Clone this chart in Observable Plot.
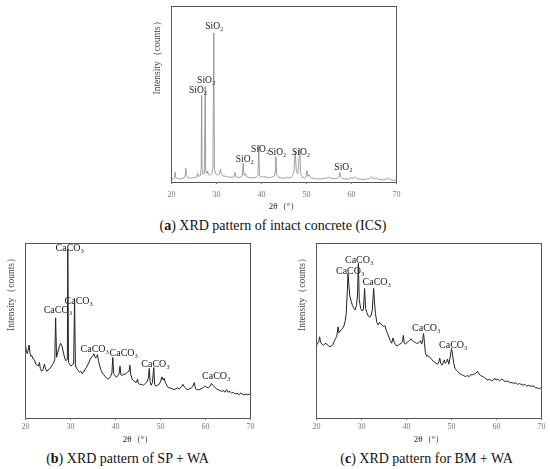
<!DOCTYPE html>
<html><head><meta charset="utf-8">
<script src="https://cdn.jsdelivr.net/npm/d3@7"></script>
<script src="https://cdn.jsdelivr.net/npm/@observablehq/plot@0.6"></script>
<style>
body{margin:0;background:#fff;}
#root{position:relative;width:550px;height:469px;background:#fff;overflow:hidden;}
#root svg{position:absolute;overflow:visible;filter:grayscale(1);}
.cap{position:absolute;transform:translateX(-50%);white-space:nowrap;font-family:"Liberation Serif","DejaVu Serif",serif;font-size:14px;line-height:16px;color:#111;}
</style></head>
<body><div id="root"></div>
<script>
// Panel (a): intact concrete (ICS)
const thetaA = [20.0,20.4,20.7,20.8,20.9,21.3,21.8,22.3,22.8,23.1,23.2,23.3,23.7,24.2,24.7,25.2,25.6,25.8,26.0,26.4,26.6,26.7,26.8,27.0,27.3,27.5,27.6,27.9,28.0,28.2,28.6,29.0,29.2,29.4,29.55,29.8,30.2,30.6,30.9,31.1,31.5,32.0,32.5,33.0,33.5,33.9,34.1,34.3,34.8,35.3,35.7,35.95,36.1,36.5,36.7,37.2,37.7,38.2,38.8,39.2,39.4,39.55,39.9,40.3,40.5,41.0,41.2,41.7,42.2,42.5,42.8,43.1,43.2,43.35,43.8,44.3,44.8,45.3,45.8,46.3,46.8,47.2,47.5,47.75,48.1,48.5,48.7,49.1,49.6,49.9,50.1,50.3,50.6,50.9,51.5,52.0,52.6,53.2,53.8,54.4,54.9,55.3,55.8,56.4,56.9,57.2,57.4,57.6,58.0,58.5,59.0,59.5,59.9,60.2,60.7,61.0,61.5,62.0,62.5,63.0,63.5,64.0,64.5,64.8,65.3,65.6,66.0,66.6,67.2,67.8,68.1,68.4,69.0,69.5,70.0];
const intensityA = [2.0,2.2,3.0,5.8,3.0,2.2,2.0,2.3,2.5,5.0,8.1,4.0,2.6,2.5,2.7,2.8,3.2,5.3,3.5,3.8,8.0,49.6,8.0,4.5,5.5,54.7,6.0,5.0,6.5,4.5,4.2,5.0,8.0,85,8.0,5.0,4.2,4.8,7.5,4.5,3.8,3.5,3.2,3.0,3.0,3.4,5.7,3.3,2.8,3.0,3.6,11,4.0,5.0,3.2,2.8,2.6,2.7,3.0,4.0,21.3,3.8,3.0,3.5,2.8,3.6,2.8,2.7,3.0,3.4,3.5,6,14.7,4.5,3.0,2.6,2.4,2.6,3.0,2.5,3.5,6.0,17.9,6.0,5.0,19.4,5.0,3.0,2.5,3.5,6.8,3.5,4.5,2.8,2.2,2.0,2.1,2.0,2.2,2.5,3.0,2.5,2.2,2.3,2.5,3.2,5.7,3.2,2.2,1.9,2.0,2.1,2.8,2.0,3.4,2.6,2.0,1.8,1.7,1.8,2.0,2.2,3.4,2.4,2.0,2.6,1.8,1.5,1.6,2.0,2.8,1.7,1.4,1.3,1.2];
const labelXA = [29.5,27.7,25.9,36.3,39.7,43.5,48.8,58.2];
const labelYA = [88.9,58.1,52.5,13.2,19.1,17.5,17.2,9.1];
const labelTextA = ["SiO₂","SiO₂","SiO₂","SiO₂","SiO₂","SiO₂","SiO₂","SiO₂"];

// Panel (b): SP + WA
const thetaB = [20.0,20.2,20.4,20.6,20.8,21.0,21.2,21.4,21.7,22.0,22.3,22.6,22.9,23.1,23.3,23.6,23.9,24.2,24.4,24.7,25.0,25.3,25.6,25.9,26.2,26.5,26.7,26.9,27.2,27.5,27.8,28.1,28.4,28.7,29.0,29.3,29.4,29.55,29.8,30.1,30.4,30.7,30.9,31.1,31.4,31.7,32.0,32.3,32.6,32.9,33.2,33.5,33.8,34.1,34.4,34.7,35.0,35.2,35.4,35.6,35.8,36.0,36.2,36.5,36.8,37.1,37.4,37.7,38.0,38.3,38.6,38.9,39.2,39.4,39.6,39.9,40.2,40.5,40.8,41.0,41.2,41.5,41.8,42.1,42.4,42.7,43.0,43.2,43.4,43.7,44.0,44.3,44.6,44.9,45.1,45.4,45.8,46.2,46.6,47.0,47.3,47.5,47.7,47.9,48.2,48.5,48.7,49.0,49.3,49.7,50.0,50.3,50.6,50.8,51.1,51.4,51.8,52.2,52.6,53.0,53.4,53.8,54.2,54.6,55.0,55.3,55.7,56.1,56.5,56.9,57.2,57.5,57.8,58.2,58.6,59.0,59.4,59.8,60.2,60.6,61.0,61.3,61.6,62.0,62.4,62.8,63.2,63.6,64.0,64.3,64.7,65.0,65.4,65.8,66.2,66.6,67.0,67.4,67.8,68.2,68.6,69.0,69.4,69.8,70.0];
const intensityB = [41.9,38.5,37.0,39.0,42.0,37.5,35.5,36.0,34.0,33.5,31.0,30.5,30.0,32.0,28.5,27.0,28.0,31.0,29.0,27.0,27.5,28.5,29.0,30.5,31.5,33.5,57.5,35.0,38.0,41.0,43.0,41.5,38.0,34.5,33.0,34.0,96.8,32.0,31.0,30.0,30.5,31.5,68.6,30.0,28.5,27.5,26.5,27.0,25.5,26.5,28.0,29.0,30.5,32.0,34.0,35.0,36.0,37.0,35.5,34.5,35.5,36.5,33.0,30.0,27.5,26.0,25.0,24.0,23.0,22.5,23.0,24.0,26.0,34.9,25.5,24.5,23.5,24.5,25.5,29.9,25.0,24.5,25.5,25.0,26.0,26.5,27.0,30.5,25.0,22.5,21.5,21.0,20.5,22.5,20.0,19.5,19.5,19.0,20.0,21.0,23.0,28.6,21.0,19.0,20.5,29.1,19.5,18.5,19.0,19.5,21.0,23.8,22.0,23.0,20.5,19.0,17.5,17.5,17.0,16.5,17.0,17.5,17.0,18.0,19.5,18.0,17.0,16.5,17.0,17.5,18.5,20.5,17.0,16.5,16.5,17.0,17.5,18.5,18.0,17.5,18.5,20.0,19.0,18.0,17.0,16.5,16.0,15.5,16.0,15.0,16.5,15.0,15.5,14.5,15.0,14.0,14.5,13.5,14.5,14.0,13.5,14.0,13.5,14.0,13.5];
const labelXB = [29.85,31.85,27.2,35.4,41.85,48.9,62.4];
const labelYB = [97.7,67.2,61.9,39.6,37.5,31.4,24.2];
const labelTextB = ["CaCO₃","CaCO₃","CaCO₃","CaCO₃","CaCO₃","CaCO₃","CaCO₃"];

// Panel (c): BM + WA
const thetaC = [20.0,20.3,20.5,20.7,20.9,21.2,21.5,21.8,22.1,22.4,22.7,23.0,23.3,23.6,23.9,24.2,24.5,24.8,25.0,25.2,25.5,25.8,26.1,26.4,26.6,26.8,27.0,27.2,27.4,27.7,28.0,28.3,28.6,28.9,29.1,29.3,29.5,29.8,30.1,30.4,30.7,30.9,31.2,31.5,31.8,32.1,32.4,32.7,32.9,33.1,33.4,33.7,34.0,34.3,34.6,34.9,35.2,35.5,35.8,36.1,36.4,36.7,37.0,37.3,37.6,37.9,38.2,38.5,38.8,39.1,39.3,39.5,39.8,40.1,40.4,40.7,41.0,41.3,41.6,41.9,42.2,42.5,42.8,43.1,43.4,43.6,43.8,44.0,44.2,44.5,44.8,45.1,45.4,45.7,46.0,46.3,46.6,46.9,47.2,47.4,47.6,47.9,48.2,48.4,48.6,48.9,49.1,49.4,49.7,50.0,50.2,50.5,50.8,51.1,51.5,51.9,52.3,52.7,53.1,53.5,53.9,54.3,54.7,55.1,55.5,55.8,56.1,56.5,56.9,57.3,57.7,58.1,58.5,58.9,59.3,59.6,59.9,60.3,60.7,61.1,61.5,61.9,62.3,62.7,63.1,63.5,63.9,64.3,64.7,65.1,65.5,65.9,66.3,66.7,67.1,67.5,67.9,68.3,68.7,69.1,69.5,69.8,70.0];
const intensityC = [41.9,43.0,44.0,46.7,43.5,42.5,41.9,42.5,43.0,42.0,41.5,41.0,41.5,42.0,44.0,45.5,47.0,52.4,49.0,50.0,50.5,51.5,53.0,56.0,60.0,70.0,82.9,76.0,70.0,67.0,64.5,63.0,62.0,65.0,70.0,88.6,68.0,63.0,61.5,62.0,74.3,63.0,60.5,58.5,58.0,58.5,62.0,74.3,66.0,60.0,55.0,53.5,55.0,54.0,53.5,52.5,53.0,50.5,48.5,46.5,44.5,43.0,46.0,43.5,42.0,41.5,42.0,42.5,43.0,44.0,47.5,43.0,42.5,43.5,44.0,44.5,45.5,44.5,44.0,43.5,43.0,43.0,43.5,44.5,42.5,45.0,48.6,43.0,37.5,35.5,36.0,35.0,34.5,33.5,32.5,32.0,31.5,31.0,32.5,34.5,31.5,30.5,32.0,33.5,31.5,32.5,34.0,31.0,35.0,40.0,37.0,31.5,28.5,27.5,26.5,25.5,25.0,24.5,24.0,24.5,24.0,25.0,25.0,25.5,26.0,27.0,25.5,24.5,24.0,23.5,22.5,22.0,22.5,21.5,22.0,23.0,22.0,22.5,21.5,22.5,22.0,21.0,21.5,21.0,20.5,20.5,20.0,20.5,19.5,20.0,19.5,19.0,19.5,18.5,19.0,18.5,18.5,18.5,17.5,17.5,17.0,17.5,17.5];
const labelXC = [29.5,27.5,33.4,44.4,50.4];
const labelYC = [90.5,84.4,78.1,51.8,42.3];
const labelTextC = ["CaCO₃","CaCO₃","CaCO₃","CaCO₃","CaCO₃"];

const xTicks = [20,30,40,50,60,70];
const yTitle = "Intensity（counts）";
const xTitle = "2θ（°）";
const captions = [["a","XRD pattern of intact concrete (ICS)"],["b","XRD pattern of SP + WA"],["c","XRD pattern for BM + WA"]];

const SERIF = '"Liberation Serif","DejaVu Serif",serif';
const root = document.getElementById("root");

function panel(opts){
  const pts = opts.theta.map((t,i)=>({t, v: opts.intensity[i]}));
  const labels = opts.lx.map((x,i)=>({x, y: opts.ly[i], s: opts.lt[i]}));
  const p = Plot.plot({
    width: opts.w, height: opts.h,
    marginTop: opts.mt, marginRight: opts.mr, marginBottom: opts.mb, marginLeft: opts.ml,
    style: {fontFamily: SERIF, background: "transparent", overflow: "visible"},
    x: {domain: [20,70]},
    y: {domain: [0,100], axis: null},
    marks: [
      Plot.line(pts, {x: "t", y: "v", stroke: opts.stroke, strokeWidth: opts.sw}),
      Plot.frame({stroke: "#555", strokeWidth: 1}),
      Plot.axisX({ticks: xTicks, tickSize: 2, tickPadding: opts.tp, fontSize: 8, fill: "#777", stroke: "#777", label: null}),
      Plot.text(labels, {x: "x", y: "y", text: "s", fontSize: opts.lf, fill: "#222", fontFamily: SERIF}),
      Plot.text([yTitle], {frameAnchor: "left", dx: -15, rotate: -90, fontSize: 9.5, fill: "#444", fontFamily: SERIF}),
      Plot.text([xTitle], {frameAnchor: "bottom", dy: opts.xt, fontSize: 9, fill: "#222", fontFamily: SERIF})
    ]
  });
  p.style.left = opts.left + "px";
  p.style.top = opts.top + "px";
  root.appendChild(p);
}

panel({theta: thetaA, intensity: intensityA, lx: labelXA, ly: labelYA, lt: labelTextA, stroke: "#888", sw: 0.8, lf: 9.5,
  left: 140, top: 0, w: 270, h: 215, mt: 6, mr: 14, mb: 33, ml: 31, tp: 7, xt: 26});
panel({theta: thetaB, intensity: intensityB, lx: labelXB, ly: labelYB, lt: labelTextB, stroke: "#222", sw: 1, lf: 10,
  left: 0, top: 230, w: 275, h: 220, mt: 13, mr: 25, mb: 32, ml: 25, tp: 3, xt: 23});
panel({theta: thetaC, intensity: intensityC, lx: labelXC, ly: labelYC, lt: labelTextC, stroke: "#222", sw: 1, lf: 10,
  left: 280, top: 230, w: 270, h: 220, mt: 13, mr: 9, mb: 32, ml: 36, tp: 3, xt: 23});

const capPos = [[273,218],[127.5,451],[426.5,451]];
captions.forEach(([k, t], i) => {
  const d = document.createElement("div");
  d.className = "cap";
  d.style.left = capPos[i][0] + "px";
  d.style.top = capPos[i][1] + "px";
  const b = document.createElement("b");
  b.textContent = k;
  d.appendChild(document.createTextNode("("));
  d.appendChild(b);
  d.appendChild(document.createTextNode(") " + t));
  root.appendChild(d);
});
</script></body></html>
